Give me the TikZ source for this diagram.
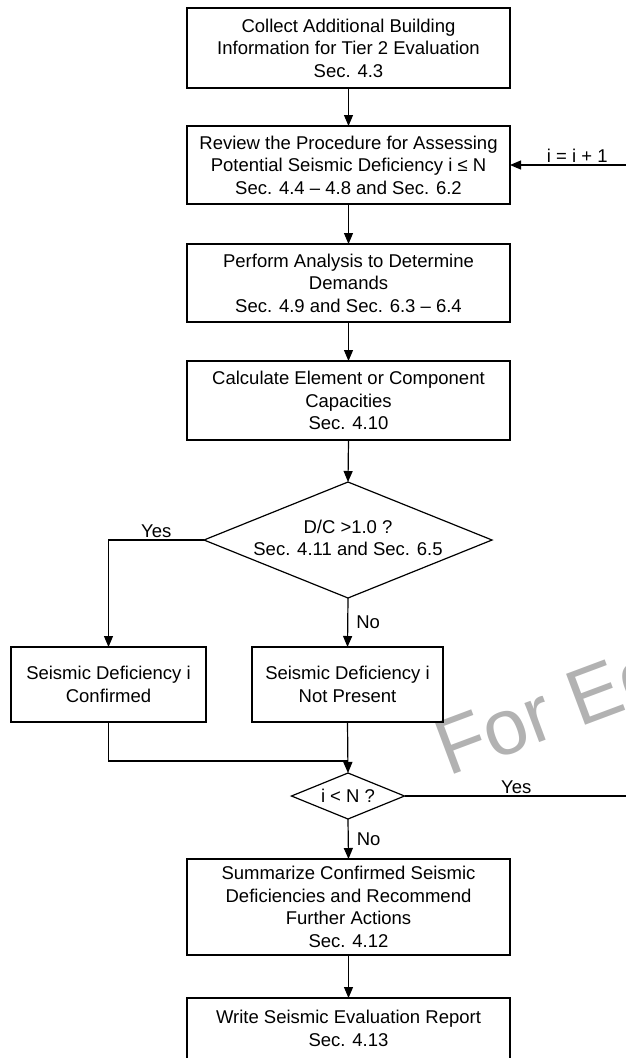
\documentclass[tikz,border=0pt]{standalone}
\usepackage{fontspec}
\setmainfont{Liberation Sans}
\usetikzlibrary{shapes.geometric,arrows.meta}
\definecolor{wmgray}{RGB}{178,178,178}
\begin{document}
\begin{tikzpicture}[x=1pt,y=-1pt,
  every node/.style={font=\fontsize{18.5}{22.6}\selectfont},
  box/.style={draw, line width=1.2pt, minimum width=323pt, align=center, inner sep=0pt, outer sep=0pt},
  dia/.style={draw, diamond, line width=1.2pt, inner sep=0pt, outer sep=0pt},
  lbl/.style={align=center, inner sep=0pt},
  edgelbl/.style={inner sep=2pt},
  arr/.style={line width=1.2pt, -{Triangle[length=11pt,width=9pt]}},
  ln/.style={line width=1.2pt},
  wm/.style={text=wmgray, font=\fontsize{79}{79}\selectfont, inner sep=0pt}]
\useasboundingbox (0,0) rectangle (625,1058);
% watermark
\node[wm, rotate=20.5, anchor=base west] (wmark) at (448,777) {For Ed};
% boxes
\node[box, minimum height=80pt] (b1) at (348.5,48) {Collect Additional Building\\Information for Tier 2 Evaluation\\Sec. 4.3};
\node[box, minimum height=78pt] (b2) at (348.5,165) {Review the Procedure for Assessing\\Potential Seismic Deficiency i ≤ N\\Sec. 4.4 – 4.8 and Sec. 6.2};
\node[box, minimum height=78pt] (b3) at (348.5,283) {Perform Analysis to Determine\\Demands\\Sec. 4.9 and Sec. 6.3 – 6.4};
\node[box, minimum height=79pt] (b4) at (348.5,400.5) {Calculate Element or Component\\Capacities\\Sec. 4.10};
\node[dia, minimum width=288pt, minimum height=116pt] (d1) at (348,540) {};
\node[lbl] (d1t) at (348,538) {D/C >1.0 ?\\Sec. 4.11 and Sec. 6.5};
\node[box, minimum width=195pt, minimum height=75pt] (b5) at (108.5,684.5) {Seismic Deficiency i\\Confirmed};
\node[box, minimum width=191pt, minimum height=75pt] (b6) at (347.5,684.5) {Seismic Deficiency i\\Not Present};
\coordinate (m) at (348,761);
\node[dia, minimum width=113pt, minimum height=46pt] (d2) at (348,796) {};
\node[lbl] (d2t) at (348,796) {i < N ?};
\node[box, minimum height=96pt] (b7) at (348.5,907) {Summarize Confirmed Seismic\\Deficiencies and Recommend\\Further Actions\\Sec. 4.12};
\node[box, minimum height=61pt] (b8) at (348.5,1028.5) {Write Seismic Evaluation Report\\Sec. 4.13};
\coordinate (r1) at (628,796);
\coordinate (r2) at (628,165);
% connectors
\draw[arr] (b1.south) -- (b2.north);
\draw[arr] (b2.south) -- (b3.north);
\draw[arr] (b3.south) -- (b4.north);
\draw[arr] (b4.south) -- (d1.north);
\draw[arr] (d1.west) -| node[edgelbl, pos=0.25, above] {Yes} (b5.north);
\draw[arr] (d1.south) -- node[edgelbl, midway, right=6pt] {No} (b6.north);
\draw[ln] (b5.south) |- (m);
\draw[arr] (b6.south) -- (d2.north);
\draw[arr] (d2.south) -- node[edgelbl, midway, right=6pt] {No} (b7.north);
\draw[arr] (b7.south) -- (b8.north);
\draw[arr] (d2.east) -- node[edgelbl, midway, above] {Yes} (r1) -- (r2) -- node[edgelbl, pos=0.43, above] {i = i + 1} (b2.east);
\end{tikzpicture}
\end{document}
